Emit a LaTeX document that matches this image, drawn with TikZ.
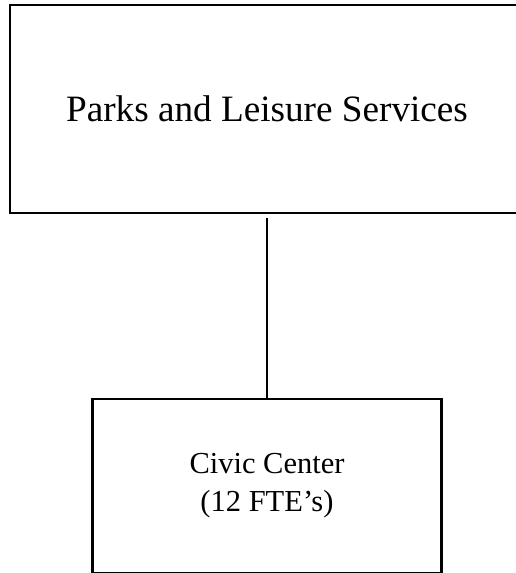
\documentclass[tikz,border=0pt]{standalone}
\usepackage{fontspec}
\setmainfont{Liberation Serif}
\usetikzlibrary{positioning}
\definecolor{Ink}{HTML}{000000}
\tikzset{
  unitbox/.style={rectangle,draw=Ink,line width=2.4pt,fill=white,inner sep=0pt,align=center},
  headbox/.style={unitbox,minimum width=514pt,minimum height=208pt,font=\fontsize{37.2}{45}\selectfont},
  subbox/.style={unitbox,minimum width=349pt,minimum height=174pt,font=\fontsize{30.5}{38}\selectfont},
  link/.style={line width=2.4pt,draw=Ink}
}
\begin{document}
\begin{tikzpicture}[x=1pt,y=-1pt]
        \useasboundingbox (0,0) rectangle (515,573);
        \node[headbox] (parks) at (267,109) {Parks and Leisure Services};
        \node[subbox] (civic) at (267,486) {Civic Center\\(12 FTE’s)};
        \draw[link,shorten <=4pt] (parks.south)--(civic.north);
      \end{tikzpicture}
\end{document}
